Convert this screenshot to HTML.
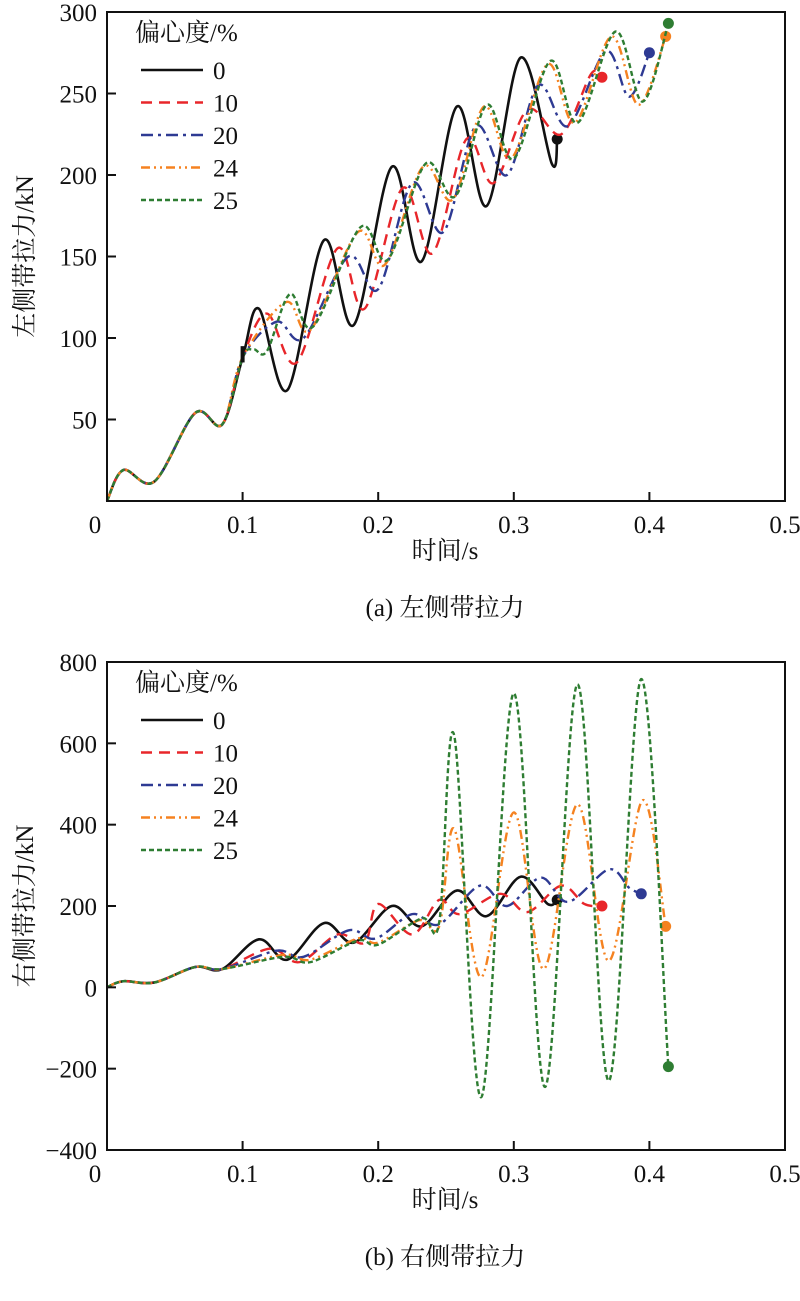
<!DOCTYPE html>
<html><head><meta charset="utf-8"><style>
body{margin:0;background:#fff}
svg text{font-family:"Liberation Serif","Noto Serif CJK SC",serif;fill:#111}
</style></head><body>
<svg id="s" width="800" height="1296" viewBox="0 0 800 1296" xmlns="http://www.w3.org/2000/svg"></svg>
<script>
const seriesNames=["0","10","20","24","25"];
const xTicks=[0,0.1,0.2,0.3,0.4,0.5];
const xTickLabels=["0","0.1","0.2","0.3","0.4","0.5"];
const yTicksA=[50,100,150,200,250,300];
const yTicksB=[-400,-200,0,200,400,600,800];
const base=[[0,0],[0.012,19],[0.035,12],[0.065,54],[0.085,47],[0.1,88]];
const aT0=[[0.112,118],[0.133,68],[0.16,160],[0.182,108],[0.21,205],[0.232,147],[0.258,242],[0.28,181],[0.305,272],[0.328,207],[0.332,222]];
const aT10=[[0.118,115],[0.14,85],[0.17,155],[0.19,118],[0.218,192],[0.24,152],[0.265,222],[0.285,195],[0.31,240],[0.335,225],[0.357,262],[0.365,260]];
const aT20=[[0.125,110],[0.145,100],[0.178,150],[0.2,130],[0.225,195],[0.248,165],[0.272,230],[0.295,200],[0.318,255],[0.34,230],[0.368,276],[0.385,248],[0.4,275]];
const aT24=[[0.132,122],[0.15,105],[0.185,165],[0.205,145],[0.233,205],[0.255,185],[0.278,242],[0.298,210],[0.325,268],[0.345,232],[0.372,285],[0.392,243],[0.412,285]];
const aT25=[[0.108,93],[0.118,92],[0.135,127],[0.152,107],[0.187,168],[0.207,148],[0.235,207],[0.257,187],[0.28,243],[0.3,210],[0.327,270],[0.347,232],[0.375,288],[0.395,245],[0.414,293]];
const baseB=[[0,0],[0.012,15],[0.035,12],[0.065,50],[0.085,45]];
const bT0=[[0.112,118],[0.133,68],[0.16,158],[0.182,110],[0.21,200],[0.232,150],[0.258,238],[0.28,175],[0.305,272],[0.325,205],[0.332,215]];
const bT10=[[0.12,95],[0.142,62],[0.17,130],[0.19,110],[0.2,205],[0.225,130],[0.245,215],[0.26,180],[0.29,230],[0.31,185],[0.335,250],[0.352,205],[0.365,200]];
const bT20=[[0.125,90],[0.145,75],[0.178,140],[0.198,120],[0.225,180],[0.245,155],[0.275,250],[0.295,200],[0.32,270],[0.34,210],[0.37,290],[0.385,245],[0.394,230]];
const bT24=[[0.13,80],[0.15,68],[0.185,120],[0.2,110],[0.23,165],[0.245,150],[0.256,390],[0.276,25],[0.3,430],[0.322,45],[0.347,450],[0.37,65],[0.395,460],[0.412,150]];
const bT25=[[0.13,75],[0.15,62],[0.185,115],[0.2,105],[0.232,170],[0.245,160],[0.256,620],[0.276,-270],[0.3,723],[0.323,-245],[0.347,745],[0.37,-230],[0.394,758],[0.414,-195]];
const colors=["#111","#e8262a","#2e3a93","#f58220","#2e7d32"];
const dashes=["","11,7","12,5,3,5","9,4,2,4,2,4","5,3"];
const S=document.getElementById('s');const NS="http://www.w3.org/2000/svg";
function mk(t,a,p){const e=document.createElementNS(NS,t);for(const k in a)e.setAttribute(k,a[k]);(p||S).appendChild(e);return e;}
function path(pts){let d="M"+pts[0][0]+","+pts[0][1];for(let i=0;i<pts.length-1;i++){const p0=pts[Math.max(0,i-1)],p1=pts[i],p2=pts[i+1],p3=pts[Math.min(pts.length-1,i+2)];
const c1=[p1[0]+(p2[0]-p0[0])/6,p1[1]+(p2[1]-p0[1])/6],c2=[p2[0]-(p3[0]-p1[0])/6,p2[1]-(p3[1]-p1[1])/6];d+=" C"+c1+" "+c2+" "+p2;}return d;}
function chart(o){
 const X=v=>o.x0+(v-0)/0.5*(o.x1-o.x0);const Y=v=>o.y1-(v-o.ymin)/(o.ymax-o.ymin)*(o.y1-o.y0);
 const g=mk('g',{});
 o.series.forEach((pts,i)=>{const sp=mk('path',{d:path(pts.map(p=>[X(p[0]),Y(p[1])])),fill:'none',stroke:colors[i],'stroke-width':i==0?2.6:2.4,'stroke-dasharray':dashes[i]},g);
  
  const l=pts[pts.length-1];const dt=mk('circle',{cx:X(l[0]),cy:Y(l[1]),r:5.5,fill:colors[i]},g);
  });
 if(o.mark){const m=mk('rect',{x:X(0.1)-2,y:Y(95),width:4,height:Y(85)-Y(95),fill:'#111'},g);}
 const fr=mk('rect',{x:o.x0,y:o.y0,width:o.x1-o.x0,height:o.y1-o.y0,fill:'none',stroke:'#111','stroke-width':2},g);
 
 xTicks.forEach((v,i)=>{mk('line',{x1:X(v),x2:X(v),y1:o.y1,y2:o.y1-9,stroke:'#111','stroke-width':2},g);
  const t=mk('text',{x:i==0?X(v)-12:X(v),y:o.y1+32,'text-anchor':'middle','font-size':25},g);t.textContent=xTickLabels[i];
  });
 o.yt.forEach(v=>{mk('line',{x1:o.x0,x2:o.x0+9,y1:Y(v),y2:Y(v),stroke:'#111','stroke-width':2},g);
  const t=mk('text',{x:o.x0-10,y:Y(v)+9,'text-anchor':'end','font-size':25},g);t.textContent=(v<0?'\u2212'+(-v):v);
  });
 const yt=mk('text',{x:0,y:0,'text-anchor':'middle','font-size':25,transform:`translate(33,${(o.y0+o.y1)/2}) rotate(-90)`},g);yt.textContent=o.ylabel;
 
 const xt=mk('text',{x:445,y:o.y1+58,'text-anchor':'middle','font-size':25},g);xt.textContent='时间/s';
 
 const cp=mk('text',{x:445,y:o.y1+115,'text-anchor':'middle','font-size':25},g);cp.textContent=o.cap;
 
 const lt=mk('text',{x:135,y:o.y0+29,'font-size':25},g);lt.textContent='偏心度/%';
 
 seriesNames.forEach((n,i)=>{const yy=o.y0+58+i*32.5;
  const ln=mk('line',{x1:141,x2:203,y1:yy,y2:yy,stroke:colors[i],'stroke-width':2.4,'stroke-dasharray':dashes[i]},g);
  
  const t=mk('text',{x:213,y:yy+9,'font-size':25},g);t.textContent=n;
  });
}
chart({name:'chart-left',x0:107,x1:785,y0:12,y1:501,ymin:0,ymax:300,yt:yTicksA,ylabel:'左侧带拉力/kN',cap:'(a) 左侧带拉力',mark:true,
 series:[base.concat(aT0),base.concat(aT10),base.concat(aT20),base.concat(aT24),base.concat(aT25)]});
chart({name:'chart-right',x0:107,x1:785,y0:662,y1:1150,ymin:-400,ymax:800,yt:yTicksB,ylabel:'右侧带拉力/kN',cap:'(b) 右侧带拉力',
 series:[baseB.concat(bT0),baseB.concat(bT10),baseB.concat(bT20),baseB.concat(bT24),baseB.concat(bT25)]});
</script>
</body></html>
